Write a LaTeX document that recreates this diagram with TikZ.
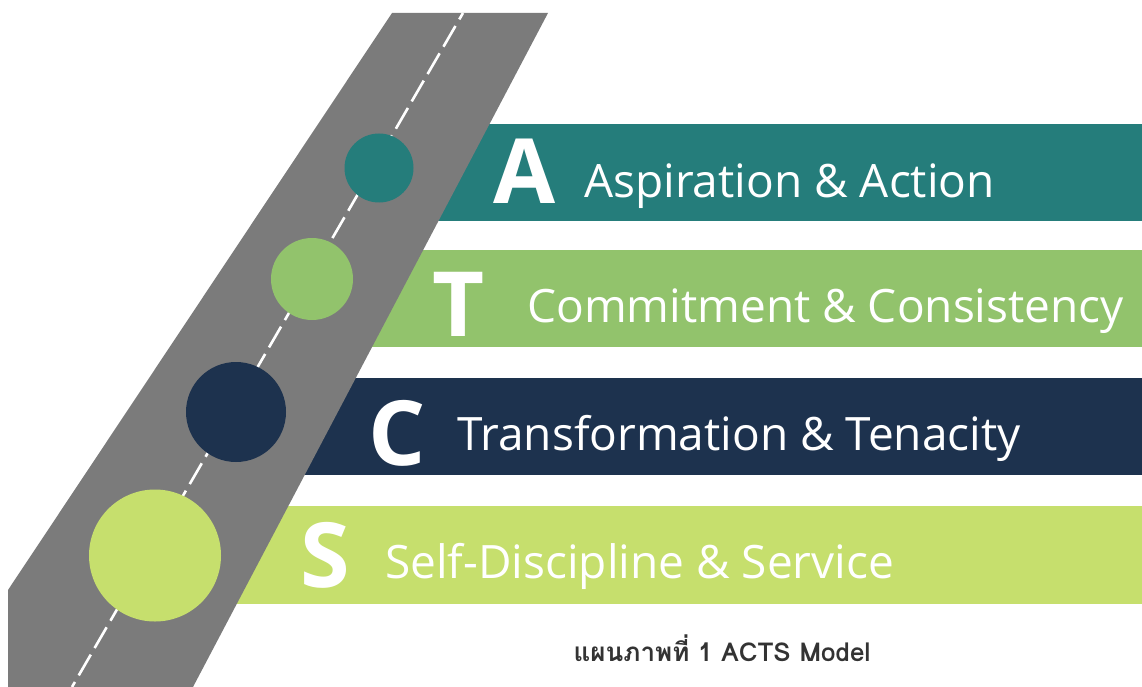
\documentclass[tikz,border=0pt]{standalone}
\usepackage{fontspec}
\setmainfont{Open Sans}
\newfontfamily\thaifont[Script=Thai]{Loma}
\usetikzlibrary{calc, positioning}

\definecolor{actsteal}{HTML}{257D7B}
\definecolor{actsgreen}{HTML}{92C36C}
\definecolor{actsnavy}{HTML}{1D324E}
\definecolor{actslime}{HTML}{C6DF6D}
\definecolor{roadgray}{HTML}{7B7B7B}
\definecolor{capgray}{HTML}{333333}

\tikzset{
  letter/.style = {anchor=base west, inner sep=0pt, text=white,
                   font=\fontsize{90}{90}\selectfont\bfseries},
  phrase/.style = {anchor=base west, inner sep=0pt, text=white,
                   font=\fontsize{46}{46}\selectfont},
  dot/.style    = {circle, inner sep=0pt, draw=none}
}

\begin{document}
\begin{tikzpicture}[x=1pt, y=-1pt]
  \useasboundingbox (0,0) rectangle (1142,687);

  % bars
  \fill[actsteal]  (380,124) rectangle (1142,221);
  \fill[actsgreen] (300,250) rectangle (1142,347);
  \fill[actsnavy]  (230,378) rectangle (1142,475);
  \fill[actslime]  (150,506) rectangle (1142,604);

  % road
  \coordinate (roadTL) at (392,13);
  \coordinate (roadTR) at (548,13);
  \coordinate (roadBR) at (193,687);
  \coordinate (roadBL) at (8,687);
  \coordinate (roadL)  at (8,590);
  \fill[roadgray] (roadTL) -- (roadTR) -- (roadBR) -- (roadBL) -- (roadL) -- cycle;

  \coordinate (midTop) at (463,13);
  \coordinate (midBot) at (72,687);
  \draw[white, line width=2.6pt, dash pattern=on 24pt off 7.6pt, dash phase=16.6pt]
    (midTop) -- (midBot);

  % circles
  \node[dot, fill=actsteal,  minimum size=69pt]  (dotA) at (379,168) {};
  \node[dot, fill=actsgreen, minimum size=82pt]  (dotT) at (312,279) {};
  \node[dot, fill=actsnavy,  minimum size=100pt] (dotC) at (236,412) {};
  \node[dot, fill=actslime,  minimum size=132pt] (dotS) at (155,555.5) {};

  % letters and phrases
  \node[letter] (letA) at (493,203) {A};
  \node[letter] (letT) at (432,336) {T};
  \node[letter] (letC) at (368,465) {C};
  \node[letter] (letS) at (300,587) {S};

  \node[phrase] (txtA) at (584,197) {Aspiration \& Action};
  \node[phrase] (txtT) at (527,322) {Commitment \& Consistency};
  \node[phrase] (txtC) at (457,450) {Transformation \& Tenacity};
  \node[phrase] (txtS) at (385,578) {Self-Discipline \& Service};

  % caption
  \node[text=capgray, font=\thaifont\fontsize{26}{26}\selectfont\bfseries] (caption)
    at (722,648) {แผนภาพที่ 1 ACTS Model};
\end{tikzpicture}
\end{document}
